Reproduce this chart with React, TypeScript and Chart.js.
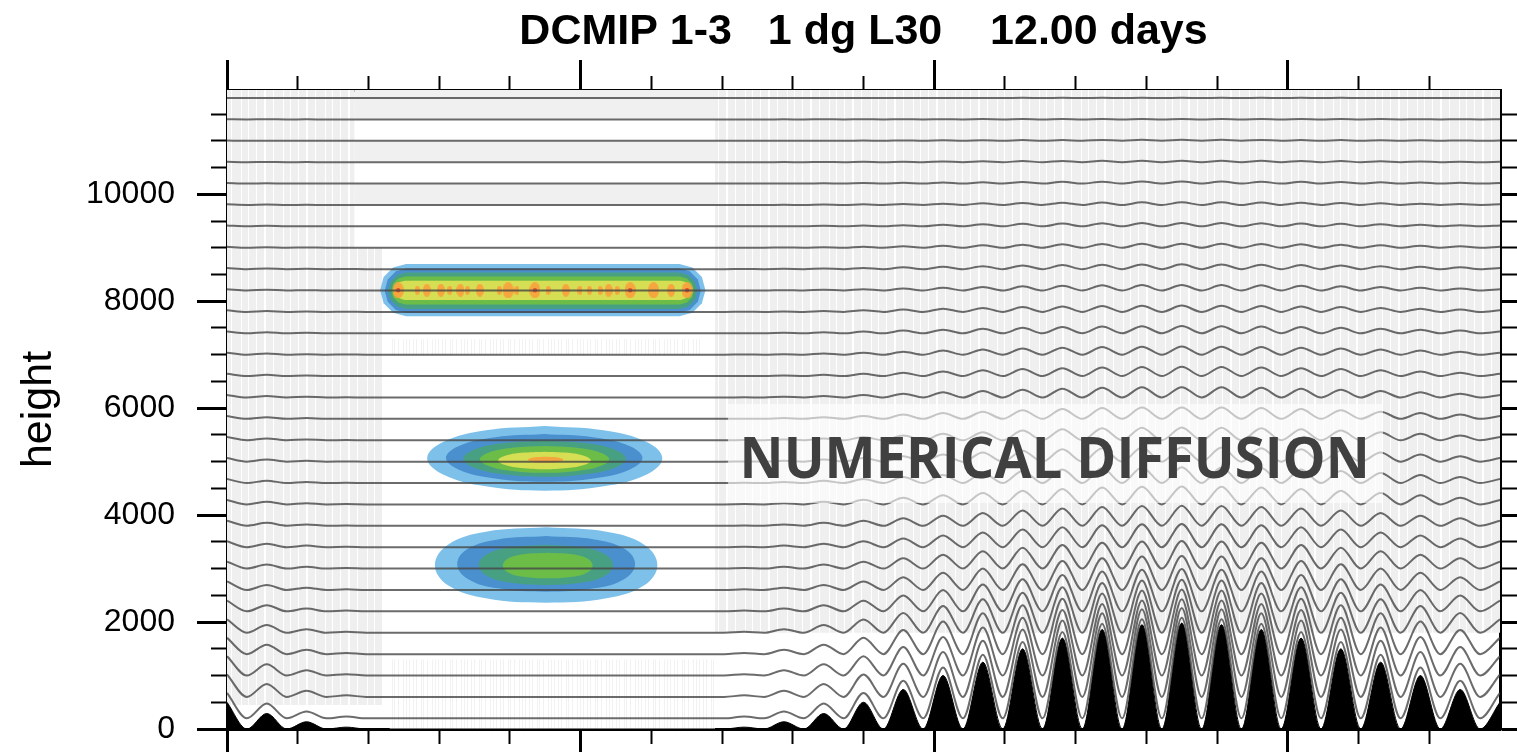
import React, { useEffect, useRef } from 'react';
import { Chart, registerables } from 'chart.js';

Chart.register(...registerables);

const titleText = 'DCMIP 1-3   1 dg L30    12.00 days';
const yAxisTitle = 'height';
const annotationText = 'NUMERICAL DIFFUSION';

const lonRange = [0, 360];
const zRange = [0, 11950];
const yMajorTicks = [0, 2000, 4000, 6000, 8000, 10000];
const yMinorTicks = [0, 500, 1000, 1500, 2000, 2500, 3000, 3500, 4000, 4500, 5000, 5500, 6000, 6500, 7000, 7500, 8000, 8500, 9000, 9500, 10000, 10500, 11000, 11500];
const xMajorTicks = [0, 100, 200, 300];
const xMinorTicks = [0, 20, 40, 60, 80, 100, 120, 140, 160, 180, 200, 220, 240, 260, 280, 300, 320, 340];

// terrain samples (peaks / valleys), longitude in degrees, height in m
const terrainLon = [0, 5.625, 11.25, 16.875, 22.5, 28.125, 33.75, 39.375,
  140.625, 146.25, 151.875, 157.5, 163.125, 168.75, 174.375, 180,
  185.625, 191.25, 196.875, 202.5, 208.125, 213.75, 219.375, 225,
  230.625, 236.25, 241.875, 247.5, 253.125, 258.75, 264.375, 270,
  275.625, 281.25, 286.875, 292.5, 298.125, 303.75, 309.375, 315,
  320.625, 326.25, 331.875, 337.5, 343.125, 348.75, 354.375, 360];
const terrainZ = [500, 0, 290, 0, 135, 0, 35, 0,
  0, 35, 0, 135, 0, 290, 0, 500,
  0, 740, 0, 1000, 0, 1250, 0, 1500,
  0, 1700, 0, 1860, 0, 1950, 0, 1980,
  0, 1950, 0, 1860, 0, 1700, 0, 1500,
  0, 1250, 0, 1000, 0, 740, 0, 500];

// model levels (height over flat ground) and their terrain-following fraction
const levelZ = [200, 600, 1000, 1400, 1800, 2200, 2600, 3000, 3400, 3800, 4200, 4600, 5000, 5400, 5800,
  6200, 6600, 7000, 7400, 7800, 8200, 8600, 9000, 9400, 9800, 10200, 10600, 11000, 11400, 11800];
const levelFollow = [0.95, 0.84, 0.72, 0.61, 0.5, 0.4, 0.32, 0.26, 0.22, 0.19, 0.17, 0.15, 0.135, 0.12, 0.108,
  0.097, 0.087, 0.077, 0.068, 0.06, 0.052, 0.045, 0.038, 0.031, 0.025, 0.019, 0.014, 0.009, 0.005, 0.002];

// tracer contour outlines [lon, z]
const upperLayer = [
  [[50.65, 8695], [127.95, 8695], [131.6, 8630], [134.3, 8451], [135.3, 8207], [134.3, 7964], [131.6, 7785], [127.95, 7720], [50.65, 7720], [46.98, 7785], [44.29, 7964], [43.3, 8207], [44.29, 8451], [46.98, 8630]],
  [[50.9, 8615], [127.7, 8615], [130.85, 8559], [133.16, 8406], [134.0, 8197], [133.16, 7989], [130.85, 7836], [127.7, 7780], [50.9, 7780], [47.75, 7836], [45.44, 7989], [44.6, 8197], [45.44, 8406], [47.75, 8559]],
  [[50.74, 8535], [127.86, 8535], [130.43, 8489], [132.31, 8365], [133.0, 8195], [132.31, 8025], [130.43, 7901], [127.86, 7855], [50.74, 7855], [48.17, 7901], [46.29, 8025], [45.6, 8195], [46.29, 8365], [48.17, 8489]],
  [[50.43, 8460], [128.07, 8460], [130.04, 8425], [131.47, 8330], [132.0, 8200], [131.47, 8070], [130.04, 7975], [128.07, 7940], [50.43, 7940], [48.46, 7975], [47.03, 8070], [46.5, 8200], [47.03, 8330], [48.46, 8425]],
  [[50.22, 8385], [128.28, 8385], [129.64, 8361], [130.64, 8295], [131.0, 8205], [130.64, 8115], [129.64, 8049], [128.28, 8025], [50.22, 8025], [48.86, 8049], [47.86, 8115], [47.5, 8205], [47.86, 8295], [48.86, 8361]],
];
const middleLayer = [
  [[89.9, 5667], [106.5, 5586], [118.7, 5365], [123.1, 5062], [118.7, 4760], [106.5, 4538], [89.9, 4457], [73.2, 4538], [61.1, 4760], [56.6, 5062], [61.1, 5365], [73.2, 5586]],
  [[89.7, 5517], [103.6, 5457], [113.8, 5294], [117.5, 5071], [113.8, 4848], [103.6, 4685], [89.7, 4625], [75.8, 4685], [65.6, 4848], [61.9, 5071], [65.6, 5294], [75.8, 5457]],
  [[89.8, 5392], [101.3, 5347], [109.7, 5224], [112.8, 5055], [109.7, 4887], [101.3, 4763], [89.8, 4718], [78.3, 4763], [69.9, 4887], [66.8, 5055], [69.9, 5224], [78.3, 5347]],
  [[89.8, 5293], [98.95, 5260], [105.65, 5168], [108.1, 5043], [105.65, 4918], [98.95, 4827], [89.8, 4793], [80.65, 4827], [73.95, 4918], [71.5, 5043], [73.95, 5168], [80.65, 5260]],
  [[89.8, 5187], [96.35, 5165], [101.14, 5104], [102.9, 5022], [101.14, 4940], [96.35, 4879], [89.8, 4857], [83.25, 4879], [78.46, 4940], [76.7, 5022], [78.46, 5104], [83.25, 5165]],
  [[90.1, 5093], [92.6, 5085], [94.4, 5064], [95.1, 5035], [94.4, 5006], [92.6, 4985], [90.1, 4977], [87.6, 4985], [85.8, 5006], [85.1, 5035], [85.8, 5064], [87.6, 5085]],
];
const lowerLayer = [
  [[90.25, 3772], [107.3, 3690], [118.0, 3448], [121.7, 3067], [118.0, 2686], [107.3, 2444], [90.25, 2362], [73.2, 2444], [62.5, 2686], [58.8, 3067], [62.5, 3448], [73.2, 3690]],
  [[90.25, 3608], [103.9, 3546], [112.4, 3369], [115.4, 3088], [112.4, 2807], [103.9, 2630], [90.25, 2568], [76.6, 2630], [68.1, 2807], [65.1, 3088], [68.1, 3369], [76.6, 3546]],
  [[90.2, 3441], [100.5, 3396], [106.9, 3269], [109.2, 3067], [106.9, 2865], [100.5, 2738], [90.2, 2693], [79.9, 2738], [73.5, 2865], [71.2, 3067], [73.5, 3269], [79.9, 3396]],
  [[90.7, 3297], [97.6, 3268], [101.9, 3187], [103.4, 3057], [101.9, 2927], [97.6, 2846], [90.7, 2817], [83.8, 2846], [79.5, 2927], [78.0, 3057], [79.5, 3187], [83.8, 3268]],
];

// tracer maxima spots along the upper layer
const spotZ = 8205;
const bigSpots = [48.4, 79.5, 87.1, 114.0, 120.6, 130.1];
const midSpots = [56.5, 60.5, 66.0, 71.5, 95.8, 107.9, 125.6];
const smallSpots = [53.8, 63.0, 68.0, 77.0, 82.0, 90.8, 99.8, 102.5, 105.5, 110.3];
const redSpots = [48.4, 87.1, 114.0, 130.1];

// light grey shaded areas [lon0, lon1, z0, z1]
const streakPatches = [[0, 36, 9000, 11950], [0, 44, 450, 9000], [138, 360, 1800, 11950]];
const faintPatches = [[46, 134, 6990, 7290], [46, 138, 0, 1300]];
const bandPatches = [[36, 138, 11400, 11950], [36, 138, 10600, 11000], [36, 138, 9800, 10200]];
const textBox = [141.7, 326.9, 4227, 6078];
const annotationLon = [146.3, 322.0];
const annotationBaseZ = 4694;

const tracerColors = ['#7dc1ea', '#4a90cf', '#48a082', '#6cbd48', '#d6de54', '#f6a63e'];

const rectPts = (r: number[]) => [[r[0], r[2]], [r[1], r[2]], [r[1], r[3]], [r[0], r[3]]];
const toXY = (pts: number[][]) => [...pts, pts[0]].map(([x, y]) => ({ x, y }));

function shapeDs(pts: number[][], color: any, order: number, tension = 0) {
  return {
    data: toXY(pts), fill: 'shape', backgroundColor: color, borderColor: 'rgba(0,0,0,0)',
    borderWidth: 1, pointRadius: 0, tension, order,
  };
}

function ellipseImage(w: number, h: number, color: string) {
  const c = document.createElement('canvas');
  c.width = w; c.height = h;
  const g = c.getContext('2d')!;
  g.fillStyle = color;
  g.beginPath();
  g.ellipse(w / 2, h / 2, w / 2, h / 2, 0, 0, Math.PI * 2);
  g.fill();
  return c;
}

const streakCols = 'ggggwgggggggwwgggggggwgggggggggwggggggwggg';
const faintCols = 'gwwgwwwgwwgwwwwgwgwwwgwwwwgww';
function streakPattern(ctx: CanvasRenderingContext2D, cols: string, gray: string) {
  const c = document.createElement('canvas');
  c.width = cols.length; c.height = 1;
  const g = c.getContext('2d')!;
  for (let i = 0; i < cols.length; i++) {
    g.fillStyle = cols[i] === 'g' ? gray : '#ffffff';
    g.fillRect(i, 0, 1, 1);
  }
  return ctx.createPattern(c, 'repeat');
}

const annotationPlugin = {
  id: 'annotationText',
  afterDatasetsDraw(chart: any) {
    const { ctx, scales } = chart;
    const xl = scales.x.getPixelForValue(annotationLon[0]);
    const xr = scales.x.getPixelForValue(annotationLon[1]);
    const yb = scales.y.getPixelForValue(annotationBaseZ);
    ctx.save();
    ctx.font = 'bold 57px "Open Sans", "DejaVu Sans", sans-serif';
    ctx.textAlign = 'left';
    ctx.textBaseline = 'alphabetic';
    const m = ctx.measureText(annotationText);
    const ink = m.actualBoundingBoxLeft + m.actualBoundingBoxRight;
    const sx = (xr - xl) / ink;
    ctx.translate(xl, yb);
    ctx.scale(sx, 1);
    ctx.fillStyle = '#404040';
    ctx.fillText(annotationText, m.actualBoundingBoxLeft, 0);
    ctx.restore();
  },
};

const sans = '"Liberation Sans", Arial, Helvetica, sans-serif';

function axis(position: string, tickValues: number[], tickLength: number, tickWidth: number, size: number, weight: number, border: boolean, extra: any = {}) {
  const horizontal = position === 'top' || position === 'bottom';
  return {
    type: 'linear', axis: horizontal ? 'x' : 'y', position,
    min: horizontal ? lonRange[0] : zRange[0], max: horizontal ? lonRange[1] : zRange[1], weight, z: 1,
    ticks: { display: false, autoSkip: false },
    grid: { display: true, drawOnChartArea: false, drawTicks: true, tickLength, tickWidth, tickColor: '#000' },
    border: border ? { display: true, width: 3, color: '#000' } : { display: false },
    afterBuildTicks: (s: any) => { s.ticks = tickValues.map((value) => ({ value })); },
    afterFit: (s: any) => {
      if (horizontal) s.height = size; else s.width = size;
      s.paddingTop = 0; s.paddingBottom = 0; s.paddingLeft = 0; s.paddingRight = 0;
    },
    ...extra,
  };
}

export default function App() {
  const ref = useRef<HTMLCanvasElement>(null);
  useEffect(() => {
    const canvas = ref.current!;
    const ctx = canvas.getContext('2d')!;
    const streak = streakPattern(ctx, streakCols, 'rgb(239,239,239)');
    const faint = streakPattern(ctx, faintCols, 'rgb(242,242,242)');

    const datasets: any[] = [];
    streakPatches.forEach((p) => datasets.push(shapeDs(rectPts(p), streak, 100)));
    faintPatches.forEach((p) => datasets.push(shapeDs(rectPts(p), faint, 100)));
    bandPatches.forEach((p) => datasets.push(shapeDs(rectPts(p), 'rgb(240,240,240)', 99)));

    upperLayer.forEach((pts, i) => datasets.push(shapeDs(pts, tracerColors[i], 70 - i, 0)));
    middleLayer.forEach((pts, i) => datasets.push(shapeDs(pts, tracerColors[i], 70 - i, 0.4)));
    lowerLayer.forEach((pts, i) => datasets.push(shapeDs(pts, tracerColors[i], 70 - i, 0.4)));

    const spotSet = (lons: number[], img: HTMLCanvasElement, order: number) => ({
      data: lons.map((x) => ({ x, y: spotZ })), showLine: false, pointStyle: img, pointRadius: 3, order,
    });
    datasets.push(spotSet(bigSpots, ellipseImage(11, 16, tracerColors[5]), 52));
    datasets.push(spotSet(midSpots, ellipseImage(8, 13, tracerColors[5]), 52));
    datasets.push(spotSet(smallSpots, ellipseImage(5, 9, tracerColors[5]), 52));
    datasets.push({
      data: redSpots.map((x) => ({ x, y: spotZ })), showLine: false, pointStyle: 'circle',
      pointRadius: 2.2, pointBackgroundColor: '#e2502c', pointBorderWidth: 0, order: 51,
    });

    datasets.push({
      data: terrainLon.map((x, i) => ({ x, y: terrainZ[i] })), borderColor: '#000', borderWidth: 1,
      backgroundColor: '#000', fill: 'origin', cubicInterpolationMode: 'monotone', pointRadius: 0, order: 45,
    });

    levelZ.forEach((z, k) => {
      datasets.push({
        data: terrainLon.map((x, i) => ({ x, y: z + levelFollow[k] * terrainZ[i] })),
        borderColor: 'rgba(70,70,70,0.8)', borderWidth: 2, fill: false,
        cubicInterpolationMode: 'monotone', pointRadius: 0, order: 40,
      });
    });

    datasets.push(shapeDs(rectPts(textBox), 'rgba(255,255,255,0.62)', 10));

    const chart = new Chart(canvas, {
      type: 'line',
      data: { datasets },
      options: {
        animation: false,
        responsive: true,
        maintainAspectRatio: false,
        events: [],
        layout: { padding: 0 },
        plugins: {
          legend: { display: false },
          tooltip: { enabled: false },
          title: {
            display: true, text: titleText, fullSize: false, color: '#000',
            font: { family: sans, size: 43, weight: 'bold' }, padding: { top: 6, bottom: 0 },
          },
        },
        scales: {
          x: axis('bottom', xMajorTicks, 30, 3, 23, 1, true),
          xMinor: axis('bottom', xMinorTicks, 15, 2, 0, 0, false),
          xTop: axis('top', xMajorTicks, 30, 3, 32.4, 1, true),
          xTopMinor: axis('top', xMinorTicks, 14, 2, 0, 0, false),
          y: axis('left', yMajorTicks, 30, 3, 227, 1, true, {
            ticks: {
              display: true, autoSkip: false, color: '#000', padding: 22,
              font: { family: sans, size: 32 }, callback: (v: any) => String(v),
            },
            title: {
              display: true, text: yAxisTitle, color: '#000',
              font: { family: sans, size: 43 }, padding: { top: 13, bottom: 0 },
            },
          }),
          yMinor: axis('left', yMinorTicks, 16, 2, 0, 0, false),
          yRight: axis('right', yMajorTicks, 30, 3, 17, 1, true),
          yRightMinor: axis('right', yMinorTicks, 17, 2, 0, 0, false),
        },
      } as any,
      plugins: [annotationPlugin],
    } as any);
    return () => chart.destroy();
  }, []);

  return (
    <div style={{ position: 'absolute', left: 0, top: 0, width: 1517, height: 752, background: '#fff' }}>
      <canvas ref={ref} />
    </div>
  );
}
